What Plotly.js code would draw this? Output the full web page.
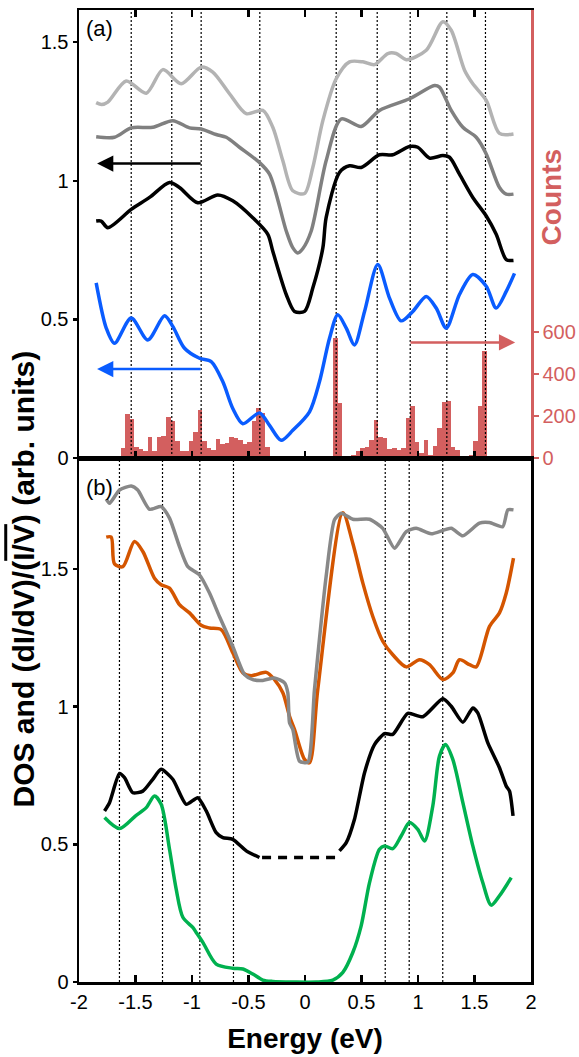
<!DOCTYPE html>
<html>
<head>
<meta charset="utf-8">
<script src="https://cdn.plot.ly/plotly-3.0.1.min.js"></script>
<style>html,body{margin:0;padding:0;background:#fff}</style>
</head>
<body>
<div id="chart" style="width:579px;height:1057px"></div>
<script>
// ---------- Panel (a) ----------
const aLightE = [-1.848,-1.80,-1.745,-1.582,-1.405,-1.258,-1.096,-0.919,-0.816,-0.668,-0.520,-0.373,-0.285,-0.196,-0.108,-0.004,0.069,0.158,0.276,0.394,0.512,0.615,0.733,0.807,0.896,1.073,1.220,1.294,1.412,1.485,1.604,1.721,1.845];
const aLightV = [1.282,1.275,1.284,1.360,1.316,1.401,1.350,1.410,1.392,1.314,1.242,1.254,1.193,1.072,0.964,0.954,1.048,1.217,1.368,1.429,1.429,1.419,1.459,1.459,1.437,1.471,1.574,1.543,1.399,1.350,1.290,1.171,1.169];

const aGrayE = [-1.848,-1.686,-1.538,-1.347,-1.170,-1.022,-0.919,-0.786,-0.697,-0.580,-0.403,-0.314,-0.166,-0.11,-0.064,-0.02,0.055,0.187,0.320,0.497,0.659,0.925,1.146,1.190,1.294,1.397,1.515,1.604,1.721,1.781,1.845];
const aGrayV = [1.159,1.157,1.191,1.193,1.217,1.191,1.187,1.167,1.157,1.121,1.066,1.024,0.819,0.760,0.740,0.755,0.819,1.072,1.223,1.196,1.254,1.296,1.344,1.338,1.254,1.193,1.157,1.097,0.976,0.952,0.952];

const aBlackE = [-1.848,-1.804,-1.745,-1.538,-1.376,-1.199,-1.111,-0.949,-0.772,-0.639,-0.462,-0.329,-0.285,-0.166,-0.093,-0.004,0.069,0.158,0.187,0.305,0.394,0.497,0.659,0.777,0.925,0.998,1.102,1.220,1.279,1.367,1.485,1.604,1.692,1.781,1.845];
const aBlackV = [0.855,0.855,0.831,0.897,0.940,0.994,0.976,0.921,0.949,0.928,0.867,0.807,0.746,0.590,0.529,0.529,0.613,0.758,0.867,1.030,1.054,1.048,1.094,1.094,1.124,1.121,1.082,1.091,1.085,1.024,0.940,0.873,0.807,0.716,0.713];

const aBlueE = [-1.848,-1.759,-1.686,-1.538,-1.391,-1.243,-1.170,-1.066,-0.934,-0.830,-0.727,-0.639,-0.550,-0.403,-0.314,-0.211,-0.108,0.040,0.128,0.217,0.290,0.365,0.438,0.527,0.644,0.748,0.851,0.954,1.073,1.161,1.250,1.367,1.485,1.604,1.692,1.781,1.854];
const aBlueV = [0.632,0.469,0.414,0.505,0.426,0.513,0.475,0.396,0.360,0.348,0.275,0.179,0.124,0.163,0.118,0.064,0.100,0.167,0.275,0.432,0.517,0.469,0.408,0.529,0.698,0.577,0.495,0.529,0.583,0.541,0.469,0.590,0.662,0.620,0.541,0.601,0.666];

// histogram (Counts), bin centres in eV
const histE = [-1.61,-1.57,-1.53,-1.49,-1.45,-1.41,-1.37,-1.33,-1.29,-1.25,-1.21,-1.17,-1.13,-1.09,-1.05,-1.01,-0.97,-0.93,-0.89,-0.85,-0.81,-0.77,-0.73,-0.69,-0.65,-0.61,-0.57,-0.53,-0.49,-0.45,-0.41,-0.37,-0.33,
  0.23,0.27,0.31,0.35,0.39,0.43,0.47,0.51,0.55,0.59,0.63,0.67,0.71,0.75,0.79,0.83,0.87,0.91,0.95,0.99,1.03,1.07,1.11,1.15,1.19,1.23,1.27,1.31,1.35,1.39,1.43,1.47,1.51,1.55,1.59,1.63];
const histCounts = [48,211,187,51,43,35,98,35,98,103,194,178,79,35,32,82,124,230,82,48,40,92,67,71,98,95,87,67,76,175,238,214,51,
  11,571,262,5,5,16,32,48,52,87,182,100,95,43,48,37,48,190,246,75,24,84,16,59,143,265,270,52,37,0,5,16,79,246,508,11];

const aDotted = [-1.538,-1.179,-0.919,-0.400,0.276,0.639,0.931,1.255,1.597];

// ---------- Panel (b) ----------
const bGrayE = [-1.759,-1.730,-1.642,-1.538,-1.480,-1.376,-1.273,-1.199,-1.111,-1.037,-0.934,-0.845,-0.757,-0.639,-0.535,-0.462,-0.373,-0.270,-0.181,-0.152,-0.137,-0.108,-0.049,0.025,0.084,0.187,0.261,0.320,0.423,0.571,0.688,0.792,0.896,0.984,1.117,1.294,1.397,1.544,1.633,1.750,1.795,1.845];
const bGrayV = [1.753,1.738,1.786,1.801,1.786,1.716,1.726,1.684,1.581,1.508,1.478,1.412,1.327,1.218,1.116,1.098,1.095,1.104,1.086,1.050,0.941,0.917,0.802,0.798,1.062,1.472,1.678,1.702,1.680,1.680,1.647,1.575,1.635,1.647,1.627,1.647,1.620,1.666,1.668,1.653,1.714,1.714];

const bOrangeE = [-1.759,-1.715,-1.686,-1.612,-1.509,-1.435,-1.332,-1.273,-1.199,-1.111,-1.022,-0.919,-0.845,-0.742,-0.639,-0.550,-0.476,-0.343,-0.270,-0.196,-0.137,-0.093,-0.004,0.040,0.113,0.335,0.423,0.512,0.600,0.688,0.777,0.896,1.013,1.102,1.220,1.308,1.367,1.456,1.515,1.633,1.721,1.781,1.845];
const bOrangeV = [1.615,1.615,1.518,1.508,1.599,1.563,1.466,1.442,1.430,1.370,1.340,1.295,1.285,1.279,1.195,1.122,1.112,1.124,1.098,1.050,0.965,0.917,0.808,0.796,1.062,1.704,1.593,1.448,1.327,1.237,1.188,1.144,1.170,1.152,1.098,1.122,1.170,1.152,1.144,1.291,1.340,1.412,1.539];

const bBlackLeftE = [-1.774,-1.730,-1.642,-1.597,-1.524,-1.435,-1.347,-1.273,-1.170,-1.051,-0.949,-0.874,-0.786,-0.727,-0.639,-0.520,-0.403];
const bBlackLeftV = [0.621,0.651,0.757,0.742,0.687,0.693,0.736,0.772,0.736,0.645,0.669,0.621,0.542,0.524,0.518,0.476,0.452];
const bBlackGapE = [-0.38,0.27];
const bBlackGapV = [0.452,0.452];
const bBlackRightE = [0.305,0.365,0.438,0.527,0.615,0.704,0.777,0.910,1.043,1.220,1.294,1.397,1.485,1.529,1.618,1.721,1.781,1.810,1.841];
const bBlackRightV = [0.476,0.506,0.591,0.760,0.862,0.902,0.899,0.975,0.963,1.028,1.001,0.943,0.995,0.977,0.868,0.778,0.711,0.693,0.603];

const bGreenE = [-1.774,-1.642,-1.494,-1.405,-1.332,-1.273,-1.199,-1.140,-1.081,-0.993,-0.963,-0.904,-0.786,-0.639,-0.550,-0.462,-0.373,-0.285,-0.1,0.1,0.246,0.335,0.423,0.497,0.571,0.659,0.704,0.777,0.851,0.925,0.998,1.058,1.131,1.190,1.243,1.308,1.397,1.485,1.573,1.648,1.721,1.825];
const bGreenV = [0.597,0.557,0.605,0.633,0.675,0.645,0.482,0.337,0.235,0.198,0.180,0.144,0.065,0.050,0.047,0.029,0.007,0.002,0,0,0.007,0.035,0.107,0.204,0.361,0.482,0.494,0.484,0.530,0.579,0.554,0.512,0.639,0.820,0.862,0.808,0.651,0.494,0.361,0.279,0.313,0.379];

const bDotted = [-1.642,-1.261,-0.931,-0.633,0.710,0.922,1.219];

const xTickVals = [-2,-1.5,-1,-0.5,0,0.5,1,1.5,2];
const xTickText = ['-2','-1.5','-1','-0.5','0','0.5','1','1.5','2'];
const yTickVals = [0,0.5,1,1.5];
const yTickText = ['0','0.5','1','1.5'];
const countTickVals = [0,200,400,600];

const A_TOP = 1.616, B_TOP = 1.902, C_TOP = 2124;
const RED = '#d35f5f';
const FONT = 'Liberation Sans, Arial, sans-serif';

function dottedTrace(list, top, xa, ya) {
  const x = [], y = [];
  list.forEach(e => { x.push(e, e, null); y.push(0, top, null); });
  return {x, y, xaxis: xa, yaxis: ya, mode: 'lines', type: 'scatter',
    line: {color: '#000', width: 1.2, dash: '2px,2px'}, hoverinfo: 'skip', showlegend: false};
}
function curve(x, y, color, xa, ya, extra) {
  return Object.assign({x, y, xaxis: xa, yaxis: ya, mode: 'lines', type: 'scatter',
    line: {color, width: 3.5, shape: 'spline', smoothing: 0.8}, showlegend: false}, extra || {});
}

const data = [
  {x: histE, y: histCounts, type: 'bar', xaxis: 'x', yaxis: 'y', marker: {color: RED, line: {width: 0}}, showlegend: false},
  dottedTrace(aDotted, A_TOP, 'x', 'y3'),
  curve(aLightE, aLightV, '#b3b3b3', 'x', 'y3'),
  curve(aGrayE, aGrayV, '#808080', 'x', 'y3'),
  curve(aBlackE, aBlackV, '#000000', 'x', 'y3'),
  curve(aBlueE, aBlueV, '#0a5cff', 'x', 'y3'),
  dottedTrace(bDotted, B_TOP, 'x2', 'y2'),
  curve(bOrangeE, bOrangeV, '#d45500', 'x2', 'y2'),
  curve(bGrayE, bGrayV, '#888888', 'x2', 'y2', {line: {color: '#888888', width: 3.5, shape: 'spline', smoothing: 0.6}}),
  curve(bBlackLeftE, bBlackLeftV, '#000000', 'x2', 'y2', {line: {color: '#000', width: 3.5, shape: 'spline', smoothing: 0.6}}),
  curve(bBlackGapE, bBlackGapV, '#000000', 'x2', 'y2', {line: {color: '#000', width: 3.5, dash: '9px,7px'}}),
  curve(bBlackRightE, bBlackRightV, '#000000', 'x2', 'y2', {line: {color: '#000', width: 3.5, shape: 'spline', smoothing: 0.6}}),
  curve(bGreenE, bGreenV, '#00b14f', 'x2', 'y2', {cliponaxis: false})
];

const axisCommon = {showgrid: false, zeroline: false, showline: true, linecolor: '#000', linewidth: 2.5,
  tickfont: {family: FONT, size: 20, color: '#000'}, tickcolor: '#000', tickwidth: 2.5};

const layout = {
  width: 579, height: 1057,
  margin: {l: 79, r: 48, t: 10, b: 75, pad: 0},
  paper_bgcolor: '#fff', plot_bgcolor: '#fff',
  bargap: 0,
  showlegend: false,
  xaxis: Object.assign({}, axisCommon, {domain: [0, 1], anchor: 'y', range: [-2, 2], tickvals: xTickVals,
    showticklabels: false, ticks: 'inside', ticklen: 7, mirror: 'ticks'}),
  yaxis: {domain: [0.539, 1], anchor: 'x', side: 'right', range: [0, C_TOP], showgrid: false, zeroline: false,
    showline: true, linecolor: RED, linewidth: 2.5, ticks: 'outside', ticklen: 5, tickwidth: 2, tickcolor: RED,
    tickvals: countTickVals, ticktext: countTickVals.map(String),
    tickfont: {family: FONT, size: 20, color: RED}},
  yaxis3: Object.assign({}, axisCommon, {overlaying: 'y', anchor: 'x', side: 'left', range: [0, A_TOP],
    tickvals: yTickVals, ticktext: yTickText, ticks: 'outside', ticklen: 4}),
  xaxis2: Object.assign({}, axisCommon, {domain: [0, 1], anchor: 'y2', range: [-2, 2], tickvals: xTickVals,
    ticktext: xTickText, ticks: 'inside', ticklen: 7, mirror: true, layer: 'below traces',
    title: {text: '<b>Energy (eV)</b>', font: {family: FONT, size: 28, color: '#000'}, standoff: 17}}),
  yaxis2: Object.assign({}, axisCommon, {domain: [0, 0.539], anchor: 'x2', range: [0, B_TOP],
    tickvals: yTickVals, ticktext: yTickText, ticks: 'outside', ticklen: 4, mirror: true}),
  annotations: [
    {text: '(a)', xref: 'x domain', yref: 'y domain', x: 0.01, y: 0.99, xanchor: 'left', yanchor: 'top',
      showarrow: false, font: {family: FONT, size: 22, color: '#000'}},
    {text: '(b)', xref: 'x2 domain', yref: 'y2 domain', x: 0.01, y: 0.972, xanchor: 'left', yanchor: 'top',
      showarrow: false, font: {family: FONT, size: 22, color: '#000'}},
    {text: '<b>DOS and (dI/dV)/(<span style="text-decoration:overline">I/V</span>) (arb. units)</b>',
      xref: 'paper', yref: 'paper', x: -0.122, y: 0.415, xanchor: 'center', yanchor: 'middle',
      textangle: -90, showarrow: false, font: {family: FONT, size: 30, color: '#000'}},
    {text: '<b>Counts</b>', xref: 'paper', yref: 'paper', x: 1.046, y: 0.807, xanchor: 'center', yanchor: 'middle',
      textangle: -90, showarrow: false, font: {family: FONT, size: 28, color: RED}},
    {x: -1.84, y: 1.062, ax: -0.91, ay: 1.062, xref: 'x', yref: 'y3', axref: 'x', ayref: 'y3', text: '',
      showarrow: true, arrowhead: 2, arrowsize: 1.3, arrowwidth: 2.5, arrowcolor: '#000'},
    {x: -1.84, y: 0.321, ax: -0.91, ay: 0.321, xref: 'x', yref: 'y3', axref: 'x', ayref: 'y3', text: '',
      showarrow: true, arrowhead: 2, arrowsize: 1.3, arrowwidth: 2.5, arrowcolor: '#0a5cff'},
    {x: 1.86, y: 0.417, ax: 0.92, ay: 0.417, xref: 'x', yref: 'y3', axref: 'x', ayref: 'y3', text: '',
      showarrow: true, arrowhead: 2, arrowsize: 1.3, arrowwidth: 2.5, arrowcolor: RED}
  ]
};

Plotly.newPlot('chart', data, layout, {staticPlot: true, displayModeBar: false});
</script>
</body>
</html>
